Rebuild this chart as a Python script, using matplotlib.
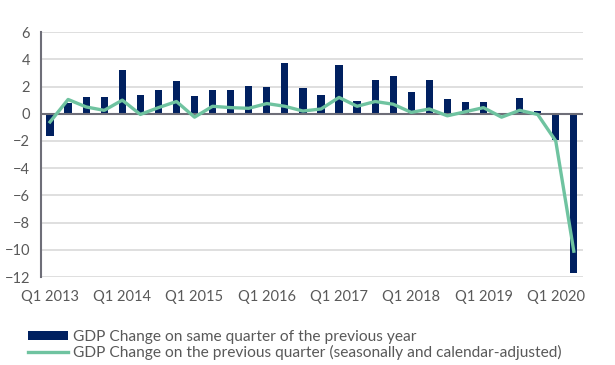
import numpy as np
import matplotlib.pyplot as plt
from matplotlib.patches import Patch
from matplotlib.lines import Line2D

quarters = [f"Q{q} {y}" for y in range(2013, 2021) for q in range(1, 5)][:30]

yoy_change = [-1.6, 0.8, 1.2, 1.2, 3.2, 1.4, 1.75, 2.4,
              1.3, 1.75, 1.75, 2.05, 2.0, 3.7, 1.9, 1.4,
              3.6, 0.95, 2.5, 2.8, 1.6, 2.5, 1.1, 0.85,
              0.85, 0.0, 1.15, 0.2, -1.9, -11.7]

qoq_change = [-0.6, 1.05, 0.5, 0.25, 1.0, -0.05, 0.45, 0.9,
              -0.25, 0.55, 0.45, 0.4, 0.75, 0.55, 0.2, 0.35,
              1.2, 0.55, 0.9, 0.7, 0.1, 0.35, -0.15, 0.15,
              0.45, -0.25, 0.25, -0.05, -2.0, -10.1]

bar_color = '#002060'
line_color = '#6fc3a0'
text_color = '#595959'

plt.rcParams['font.family'] = ['Lato', 'DejaVu Sans']

fig = plt.figure(figsize=(6.15, 3.65), dpi=100)
ax = fig.add_axes([0.0667, 0.241, 0.881, 0.671])

x = np.arange(len(quarters))
ax.bar(x, yoy_change, width=0.4, color=bar_color, zorder=2)
ax.plot(x, qoq_change, color=line_color, lw=2.4, zorder=3)

ax.set_xlim(-0.5, len(quarters) - 0.5)
ax.set_ylim(-12, 6)
ax.set_yticks(range(-12, 7, 2))
ax.yaxis.grid(True, color='#d9d9d9', lw=1.2, zorder=0)
ax.axhline(0, color='#6e6e78', lw=1.5, zorder=2.5)

tick_pos = x[::4]
ax.set_xticks(tick_pos)
ax.set_xticklabels([quarters[i] for i in tick_pos])
ax.tick_params(axis='both', length=0, labelcolor=text_color, labelsize=10.5)
ax.tick_params(axis='x', pad=9)
ax.tick_params(axis='y', pad=8)

for s in ['top', 'right', 'bottom']:
    ax.spines[s].set_visible(False)
ax.spines['left'].set_color('#6e6e78')
ax.spines['left'].set_linewidth(1.5)

handles = [Patch(facecolor=bar_color),
           Line2D([0], [0], color=line_color, lw=2.4)]
labels = ['GDP Change on same quarter of the previous year',
          'GDP Change on the previous quarter (seasonally and calendar-adjusted)']
fig.legend(handles, labels, loc='upper left', bbox_to_anchor=(0.045, 0.097),
           frameon=False, fontsize=11.2, labelcolor=text_color,
           handlelength=2.6, handleheight=0.5, handletextpad=0.3,
           labelspacing=0.1, borderaxespad=0, borderpad=0)

fig.savefig('out.png', dpi=100)
